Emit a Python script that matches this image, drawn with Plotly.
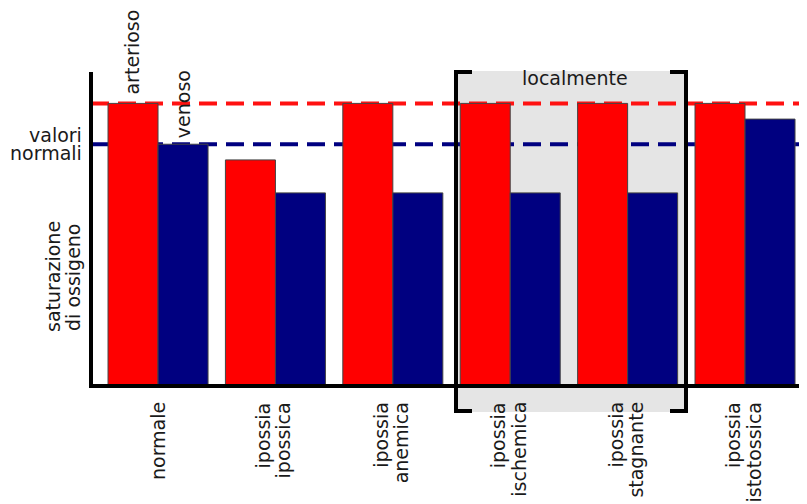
import plotly.graph_objects as go

categories = ["normale", "ipossia\nipossica", "ipossia\nanemica",
              "ipossia\nischemica", "ipossia\nstagnante", "ipossia\nistotossica"]
arterioso = [90, 72, 90, 90, 90, 90]
venoso = [77, 61.5, 61.5, 61.5, 61.5, 85]
normale_arterioso = 90
normale_venoso = 77
y_title = ["saturazione", "di ossigeno"]
ref_label = ["valori", "normali"]

# page has an 8px body margin: work in page pixels, convert
OFF = 8
W, H = 807 - OFF, 504 - OFF
L, R, T, B = 91 - OFF, 0, 72 - OFF, 504 - 386
pw, ph = W - L - R, H - T - B

def px(xp):
    return (xp - 91) / pw

def py(yp):
    return (386 - yp) / ph

FONT = "DejaVu Sans"
TXT = "#1a1a1a"
FS = 19
LS = 20  # line spacing in px

fig = go.Figure()
xs = list(range(len(categories)))
fig.add_bar(x=xs, y=arterioso, name="arterioso",
            marker=dict(color="#ff0000", line=dict(color="#444444", width=1)))
fig.add_bar(x=xs, y=venoso, name="venoso",
            marker=dict(color="#000080", line=dict(color="#444444", width=1)))

shapes = []
shapes.append(dict(type="rect", xref="paper", yref="paper", x0=px(455), x1=px(687),
                   y0=py(412), y1=py(71), fillcolor="#e5e5e5", line=dict(width=0), layer="below"))
shapes.append(dict(type="line", xref="paper", yref="y", x0=0, x1=1,
                   y0=normale_arterioso, y1=normale_arterioso,
                   line=dict(color="#ff1111", width=4, dash="18px,9px"), layer="below"))
shapes.append(dict(type="line", xref="paper", yref="y", x0=0, x1=1,
                   y0=normale_venoso, y1=normale_venoso,
                   line=dict(color="#000080", width=4, dash="18px,9px"), layer="below"))
shapes.append(dict(type="path", xref="paper", yref="paper",
                   path=f"M {px(472)} {py(72)} L {px(456)} {py(72)} L {px(456)} {py(411)} L {px(472)} {py(411)}",
                   line=dict(color="black", width=4), layer="above"))
shapes.append(dict(type="path", xref="paper", yref="paper",
                   path=f"M {px(670)} {py(72)} L {px(686)} {py(72)} L {px(686)} {py(411)} L {px(670)} {py(411)}",
                   line=dict(color="black", width=4), layer="above"))
shapes.append(dict(type="line", xref="paper", yref="paper", x0=px(91), x1=px(91), y0=py(388), y1=1,
                   line=dict(color="black", width=4), layer="above"))
shapes.append(dict(type="line", xref="paper", yref="paper", x0=px(89), x1=1, y0=0, y1=0,
                   line=dict(color="black", width=4), layer="above"))

font = dict(family=FONT, size=FS, color=TXT)
annotations = [
    dict(text="arterioso", x=-0.213, xref="x", y=normale_arterioso + 2.2, yref="y",
         xshift=-1.5, textangle=-90, xanchor="center", yanchor="bottom", showarrow=False, font=font),
    dict(text="venoso", x=0.213, xref="x", y=normale_venoso + 1.3, yref="y",
         textangle=-90, xanchor="center", yanchor="bottom", showarrow=False, font=font),
    dict(text="localmente", x=px(575), xref="paper", y=py(78), yref="paper",
         xanchor="center", yanchor="middle", showarrow=False, font=font),
]
# "valori normali"
for j, t in enumerate(ref_label):
    annotations.append(dict(text=t, x=px(84), xref="paper", y=py(135 + j * 18), yref="paper",
                            xanchor="right", yanchor="middle", showarrow=False, font=font))
# y title
for j, t in enumerate(y_title):
    annotations.append(dict(text=t, x=px(53 + j * LS), xref="paper", y=py(277), yref="paper",
                            textangle=-90, xanchor="center", yanchor="middle",
                            showarrow=False, font=font))
# category labels
for i, cat in enumerate(categories):
    lines = cat.split("\n")
    n = len(lines)
    for j, t in enumerate(lines):
        shift = 0 if n == 1 else (j - (n - 1) / 2) * LS - 2
        annotations.append(dict(text=t, x=i, xref="x", y=0, yref="paper", yshift=-14,
                                xshift=shift, textangle=-90, xanchor="center", yanchor="top",
                                showarrow=False, font=font))

fig.update_layout(
    width=W, height=H,
    margin=dict(l=L, r=R, t=T, b=B, pad=0),
    paper_bgcolor="white", plot_bgcolor="rgba(0,0,0,0)",
    barmode="group", bargap=0.148, bargroupgap=0,
    showlegend=False,
    shapes=shapes, annotations=annotations,
    font=font,
)
fig.update_xaxes(range=[-0.571, 5.528], showgrid=False, zeroline=False,
                 showline=False, ticks="", showticklabels=False)
fig.update_yaxes(range=[0, 100], showgrid=False, zeroline=False, showline=False,
                 showticklabels=False, ticks="")

fig.write_html("out.html")
